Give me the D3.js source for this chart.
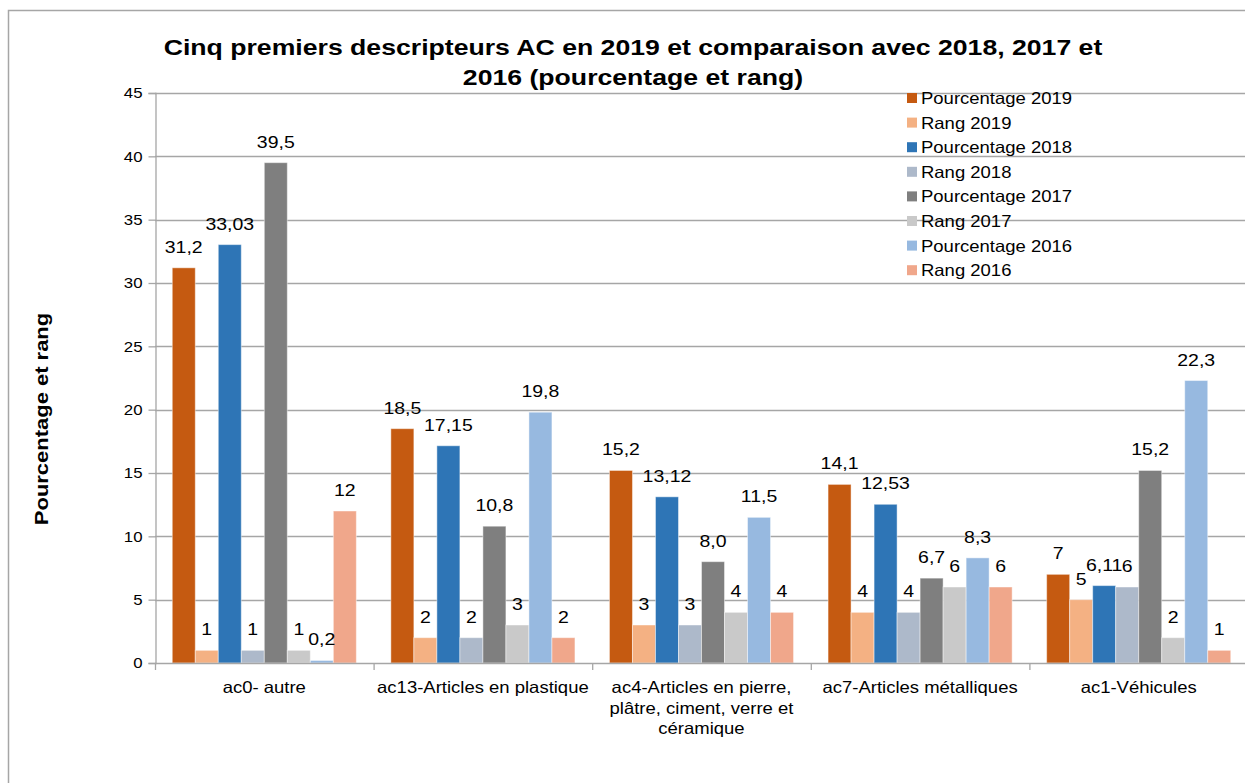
<!DOCTYPE html>
<html>
<head>
<meta charset="utf-8">
<script src="https://cdn.jsdelivr.net/npm/d3@7"></script>
<style>
  html, body { margin: 0; padding: 0; background: #fff; }
  svg { display: block; font-family: "Liberation Sans", Arial, sans-serif; }
</style>
</head>
<body>
<svg id="chart" width="1245" height="783"></svg>
<script>
// Categories (descripteurs AC)
const categories = [
  ["ac0- autre"],
  ["ac13-Articles en plastique"],
  ["ac4-Articles en pierre,", "plâtre, ciment, verre et", "céramique"],
  ["ac7-Articles métalliques"],
  ["ac1-Véhicules"]
];

// Series, one value per category
const pourcentage2019 = [31.2, 18.5, 15.2, 14.1, 7];
const rang2019        = [1, 2, 3, 4, 5];
const pourcentage2018 = [33.03, 17.15, 13.12, 12.53, 6.11];
const rang2018        = [1, 2, 3, 4, 6];
const pourcentage2017 = [39.5, 10.8, 8.0, 6.7, 15.2];
const rang2017        = [1, 3, 4, 6, 2];
const pourcentage2016 = [0.2, 19.8, 11.5, 8.3, 22.3];
const rang2016        = [12, 2, 4, 6, 1];

const seriesNames = [
  "Pourcentage 2019", "Rang 2019",
  "Pourcentage 2018", "Rang 2018",
  "Pourcentage 2017", "Rang 2017",
  "Pourcentage 2016", "Rang 2016"
];
const seriesValues = [
  pourcentage2019, rang2019,
  pourcentage2018, rang2018,
  pourcentage2017, rang2017,
  pourcentage2016, rang2016
];
// decimals shown in the data labels (null = as is)
const seriesDecimals = [null, 0, 2, 0, 1, 0, 1, 0];

const yTicks = [0, 5, 10, 15, 20, 25, 30, 35, 40, 45];

const titleLines = [
  "Cinq premiers descripteurs AC en 2019 et comparaison avec 2018, 2017 et",
  "2016 (pourcentage et rang)"
];
const yTitle = "Pourcentage et rang";

const colors = [
  "#C55A11", "#F4B183",
  "#2E75B6", "#ADB9CA",
  "#7F7F7F", "#C9C9C9",
  "#97B9E0", "#F0A78B"
];

// widen text horizontally by a factor (the chart uses a broad sans face)
function widen(sel, factor) {
  sel.each(function () {
    const len = this.getComputedTextLength();
    d3.select(this)
      .attr("textLength", len * factor)
      .attr("lengthAdjust", "spacingAndGlyphs");
  });
}

const svg = d3.select("#chart");

// outer frame
svg.append("rect")
  .attr("x", 8.5).attr("y", 10.5)
  .attr("width", 1300).attr("height", 900)
  .attr("fill", "none").attr("stroke", "#A6A6A6").attr("stroke-width", 1.5);

const plot = { left: 155, right: 1248, top: 93, bottom: 663 };

const y = d3.scaleLinear().domain([0, 45]).range([plot.bottom, plot.top]);

const x0 = d3.scaleBand()
  .domain(d3.range(categories.length))
  .range([plot.left, plot.right])
  .padding(0);

const bw = x0.bandwidth();
const x1 = d3.scaleBand()
  .domain(d3.range(seriesNames.length))
  .range([0, bw])
  .paddingInner(0)
  .paddingOuter(0.75);

// gridlines
svg.append("g")
  .selectAll("line")
  .data(yTicks.filter(d => d > 0))
  .join("line")
  .attr("x1", plot.left).attr("x2", plot.right)
  .attr("y1", d => Math.round(y(d)) + 0.5).attr("y2", d => Math.round(y(d)) + 0.5)
  .attr("stroke", "#A6A6A6").attr("stroke-width", 1.3);

// y axis
const yAxis = svg.append("g")
  .attr("transform", `translate(${plot.left + 0.5},0)`)
  .call(d3.axisLeft(y).tickValues(yTicks).tickSize(7).tickPadding(6).tickFormat(d3.format("d")));
yAxis.select(".domain").attr("stroke", "#A6A6A6").attr("stroke-width", 1.3);
yAxis.selectAll(".tick line").attr("stroke", "#A6A6A6").attr("stroke-width", 1.3);
yAxis.selectAll(".tick text")
  .attr("font-family", "Liberation Sans, Arial, sans-serif")
  .attr("font-size", 15).attr("fill", "#000");
widen(yAxis.selectAll(".tick text"), 1.12);

// bars
const fmtLabel = (v, dec) => dec === null ? String(v).replace(".", ",") : v.toFixed(dec).replace(".", ",");

const groups = svg.append("g")
  .selectAll("g")
  .data(categories.map((c, i) => i))
  .join("g")
  .attr("transform", i => `translate(${x0(i)},0)`);

groups.each(function (ci) {
  const g = d3.select(this);
  const rows = seriesValues.map((vals, si) => ({ si, v: vals[ci] }));
  g.selectAll("rect")
    .data(rows)
    .join("rect")
    .attr("x", d => x1(d.si))
    .attr("y", d => y(d.v))
    .attr("width", x1.bandwidth())
    .attr("height", d => y(0) - y(d.v))
    .attr("fill", d => colors[d.si])
    .attr("stroke", "#fff").attr("stroke-opacity", 0.45).attr("stroke-width", 1);
  const labels = g.selectAll("text")
    .data(rows)
    .join("text")
    .attr("x", d => x1(d.si) + x1.bandwidth() / 2)
    .attr("y", d => y(d.v) - 15)
    .attr("text-anchor", "middle")
    .attr("font-size", 16.5)
    .attr("fill", "#000")
    .text(d => fmtLabel(d.v, seriesDecimals[d.si]));
  widen(labels, 1.18);
});

// x axis
svg.append("line")
  .attr("x1", plot.left).attr("x2", plot.right)
  .attr("y1", plot.bottom + 0.5).attr("y2", plot.bottom + 0.5)
  .attr("stroke", "#A6A6A6").attr("stroke-width", 1.3);
svg.append("g")
  .selectAll("line")
  .data(d3.range(categories.length + 1))
  .join("line")
  .attr("x1", i => plot.left + i * bw + 0.5).attr("x2", i => plot.left + i * bw + 0.5)
  .attr("y1", plot.bottom).attr("y2", plot.bottom + 7)
  .attr("stroke", "#A6A6A6").attr("stroke-width", 1.3);

// category labels
const catText = svg.append("g")
  .selectAll("text")
  .data(categories.map((lines, i) => ({ lines, i })))
  .join("text")
  .attr("text-anchor", "middle")
  .attr("font-size", 16.5)
  .attr("fill", "#000");
catText.each(function (d) {
  const t = d3.select(this);
  d.lines.forEach((ln, k) => {
    t.append("tspan")
      .attr("x", x0(d.i) + bw / 2)
      .attr("y", 693 + k * 20.5)
      .text(ln);
  });
});
widen(catText.selectAll("tspan"), 1.12);

// title
const title = svg.append("text")
  .attr("text-anchor", "middle")
  .attr("font-size", 22)
  .attr("font-weight", "bold")
  .attr("fill", "#000");
titleLines.forEach((ln, k) => {
  title.append("tspan").attr("x", 633).attr("y", 55 + k * 30).text(ln);
});
widen(title.selectAll("tspan"), 1.21);

// y axis title
const yt = svg.append("text")
  .attr("transform", "translate(48,419) rotate(-90)")
  .attr("text-anchor", "middle")
  .attr("font-size", 18)
  .attr("font-weight", "bold")
  .attr("fill", "#000")
  .text(yTitle);
widen(yt, 1.22);

// legend
const legend = svg.append("g")
  .selectAll("g")
  .data(seriesNames.map((name, i) => ({ name, i })))
  .join("g")
  .attr("transform", d => `translate(907,${98 + d.i * 24.6})`);
legend.append("rect")
  .attr("x", 0).attr("y", -5).attr("width", 10).attr("height", 10)
  .attr("fill", d => colors[d.i]);
const legText = legend.append("text")
  .attr("x", 14).attr("y", 6)
  .attr("font-size", 16.5)
  .attr("fill", "#000")
  .text(d => d.name);
widen(legText, 1.12);
</script>
</body>
</html>
